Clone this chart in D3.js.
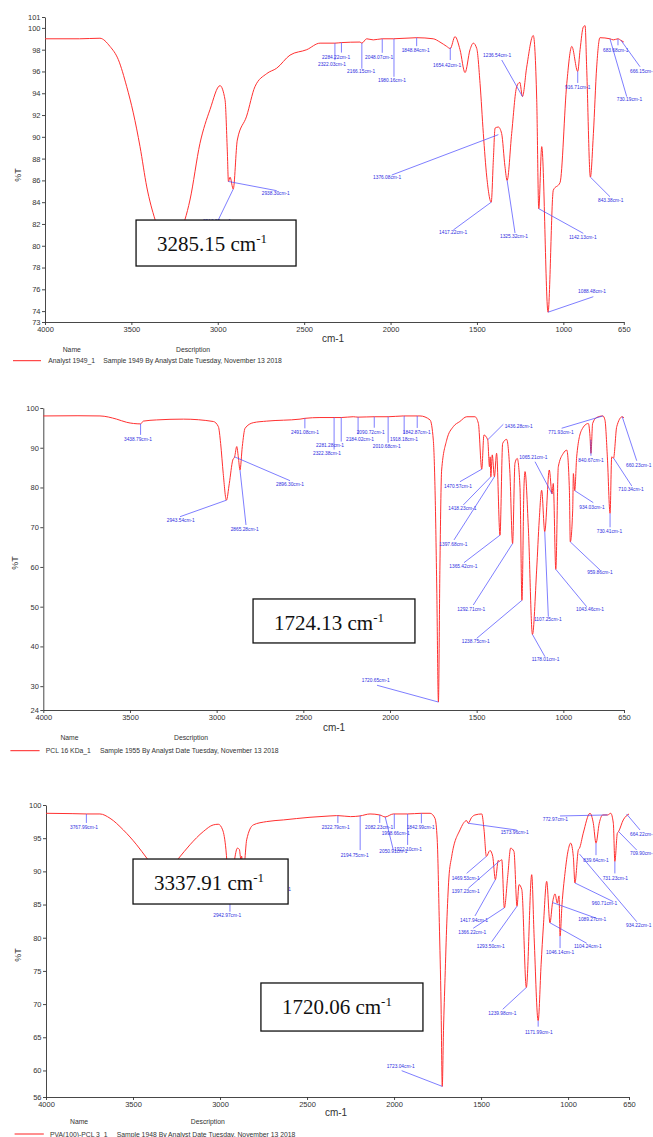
<!DOCTYPE html>
<html lang="en">
<head>
<meta charset="UTF-8">
<title>FTIR spectra - PVA, PCL, PVA-PCL</title>
<script src="https://d3js.org/d3.v7.min.js"></script>
<style>
  body { margin: 0; background: #fff; }
  svg { display: block; font-family: "Liberation Sans", Arial, sans-serif; }
  .axis path, .axis line { stroke: #333; stroke-width: 0.9; }
  .axis text { font-size: 7.5px; fill: #333; font-family: "Liberation Sans", Arial, sans-serif; }
  .spectrum { fill: none; stroke: #ff3030; stroke-width: 1; }
  .leader { stroke: #4646ff; stroke-width: 0.7; }
  .peak-label { font-size: 4.8px; fill: #2d2de0; }
  .axis-title { font-size: 10px; fill: #333; }
  .legend { font-size: 6.8px; fill: #333; }
  .box rect { fill: #fff; stroke: #111; stroke-width: 1.3; }
  .box text { font-family: "Liberation Serif", "Times New Roman", serif; font-size: 21px; fill: #111; }
</style>
</head>
<body>
<svg id="chart" width="653" height="1137"></svg>
<script>
// ---- data (wavenumber cm-1, %T) ----
const xTickValues = [4000, 3500, 3000, 2500, 2000, 1500, 1000, 650];
const pvaYTicks = [73, 74, 76, 78, 80, 82, 84, 86, 88, 90, 92, 94, 96, 98, 100, 101];
const pclYTicks = [24, 30, 40, 50, 60, 70, 80, 90, 100];
const blendYTicks = [56, 60, 65, 70, 75, 80, 85, 90, 95, 100];

const sampleNames = ["Analyst 1949_1", "PCL 16 KDa_1", "PVA(100)-PCL 3_1"];
const sampleDescriptions = [
    "Sample 1949 By Analyst Date Tuesday, November 13 2018",
    "Sample 1955 By Analyst Date Tuesday, November 13 2018",
    "Sample 1948 By Analyst Date Tuesday, November 13 2018"
];
const boxedPeaks = [["3285.15"], ["1724.13"], ["3337.91", "1720.06"]];

const pvaSpectrum = [
    [4000, 99.0], [3800, 99.0], [3682, 99.05], [3624, 98.3], [3576, 97.1], [3527, 94.6], [3489, 92.2],
    [3450, 89.1], [3411, 85.4], [3363, 82.4], [3320, 80.6], [3285.15, 80.2], [3240, 80.8], [3190, 82.4],
    [3161, 84.2], [3103, 89.4], [3045, 92.5], [2987, 94.7], [2958, 93.4], [2945, 88.8], [2938.3, 85.9],
    [2929, 86.3], [2910.52, 85.2], [2887, 89.7], [2833, 91.9], [2785, 94.6], [2717, 95.8], [2659, 96.3],
    [2582, 97.5], [2485, 98.0], [2408, 98.6], [2322.03, 98.6], [2284.22, 98.65], [2177, 98.7],
    [2166.15, 98.6], [2138, 99.0], [2100, 98.9], [2048.07, 99.0], [1984, 99.0], [1848.84, 99.1],
    [1753, 99.0], [1714, 98.7], [1675, 98.3], [1654.42, 98.1], [1627, 99.2], [1598, 98.0], [1569, 95.9],
    [1540, 98.0], [1521, 98.6], [1501, 98.1], [1482, 94.9], [1463, 90.3], [1443, 86.3], [1417.22, 84.0],
    [1405, 87.9], [1395, 90.8], [1376.08, 90.9], [1357, 90.3], [1338, 87.3], [1325.32, 86.0], [1299, 90.3],
    [1270, 94.6], [1252, 95.0], [1236.54, 93.7], [1212, 96.4], [1174, 99.3], [1154, 93.4], [1142.13, 83.4],
    [1125, 89.1], [1088.48, 73.9], [1058, 85.1], [1019, 85.8], [980, 94.9], [951, 98.3], [916.71, 96.0],
    [903, 98.0], [884, 100.1], [874, 100.2], [865, 96.4], [843.38, 86.3], [826, 90.3], [807, 96.4],
    [788, 99.1], [730.19, 99.0], [711, 98.9], [683.68, 99.0], [666.15, 98.85], [650, 98.7]
];
const pvaPeaks = [
    [2938.30, 85.9], [2910.52, 85.2], [2322.03, 98.6], [2284.22, 98.65], [2166.15, 98.6], [2048.07, 99.0],
    [1980.16, 99.0], [1848.84, 99.1], [1654.42, 98.2], [1417.22, 84.0], [1376.08, 90.2], [1325.32, 86.0],
    [1236.54, 93.7], [1142.13, 83.4], [1088.48, 73.9], [916.71, 96.0], [843.38, 86.3], [730.19, 99.0],
    [683.68, 99.0], [666.15, 98.85]
];

const pclSpectrum = [
    [4000, 98.0], [3800, 98.05], [3673, 98.0], [3577, 97.2], [3519, 96.4], [3438.79, 96.0], [3423, 96.7],
    [3346, 97.0], [3192, 97.2], [3019, 96.6], [2990, 95.3], [2977, 91.1], [2962, 83.5], [2943.54, 76.8],
    [2927, 81.0], [2907, 86.9], [2896.3, 87.7], [2884, 90.3], [2875, 87.7], [2865.28, 84.4], [2852, 90.3],
    [2836, 94.9], [2789, 96.3], [2711, 96.7], [2519, 97.2], [2491.08, 97.4], [2404, 97.6], [2322.38, 97.6],
    [2281.28, 97.6], [2212, 97.8], [2184.02, 97.7], [2090.72, 97.8], [2010.68, 97.8], [1923, 98.0],
    [1842.87, 98.0], [1827, 98.0], [1769, 97.0], [1750, 91.9], [1740, 79.3], [1730, 54.2], [1720.65, 26.0],
    [1712, 60], [1702, 84.4], [1673, 91.9], [1635, 95.3], [1597, 96.6], [1557, 97.8], [1510, 97.8],
    [1490, 96.1], [1470.57, 84.6], [1458, 93.2], [1436.28, 92.0], [1426, 85.2], [1422, 87.7],
    [1418.23, 82.7], [1410, 88.2], [1397.68, 82.7], [1385, 88.6], [1365.42, 68.0], [1350, 91.1],
    [1327, 92.1], [1308, 83.5], [1292.71, 65.9], [1279, 86.1], [1266, 87.3], [1250, 80], [1238.75, 51.6],
    [1227, 80.2], [1221, 84.0], [1202, 70], [1178.01, 43.0], [1154, 59.2], [1139, 71.8], [1125, 79.3],
    [1107.25, 68.9], [1081, 84.4], [1065.21, 78.4], [1058, 81.0], [1043.46, 59.4], [1029, 85.2],
    [1000, 88.6], [980, 89.4], [965, 79.3], [959.86, 66.3], [946, 74.3], [942, 83.5], [934.03, 79.2],
    [923, 87.7], [894, 94.5], [856, 96.1], [846, 92.8], [840.67, 88.6], [831, 96.1], [808, 97.6],
    [771.93, 98.0], [760, 97.0], [746, 87.7], [730.41, 73.5], [721, 87.7], [710.34, 87.4], [692, 95.3],
    [660.23, 97.8], [650, 97.5]
];
const pclPeaks = [
    [3438.79, 96.0], [2943.54, 76.8], [2896.30, 87.7], [2865.28, 84.4], [2491.08, 97.4], [2322.38, 97.6],
    [2281.28, 97.6], [2184.02, 97.7], [2090.72, 97.8], [2010.68, 97.8], [1918.18, 98.0], [1842.87, 98.0],
    [1720.65, 26.0], [1470.57, 84.6], [1436.28, 92.0], [1418.23, 82.7], [1397.68, 82.7], [1365.42, 68.0],
    [1292.71, 65.9], [1238.75, 51.6], [1178.01, 43.0], [1107.25, 68.9], [1065.21, 78.4], [1043.46, 59.4],
    [959.86, 66.3], [934.03, 79.2], [840.67, 92.0], [771.93, 98.0], [730.41, 73.5], [710.34, 87.4],
    [660.23, 97.8]
];

const blendSpectrum = [
    [4000, 98.75], [3850, 98.7], [3767.99, 98.65], [3690, 98.65], [3632, 98.0], [3556, 96.25], [3479, 94.0],
    [3421, 92.0], [3380, 90.6], [3337.91, 89.9], [3290, 90.4], [3240, 91.9], [3173, 94.0], [3096, 96.0],
    [3039, 97.0], [3010, 97.1], [2985, 96.25], [2966, 93.25], [2955, 89.5], [2942.97, 85.5], [2930, 88.5],
    [2915, 92.0], [2900, 93.5], [2889, 93.3], [2880, 91.8], [2876, 92.3], [2866.2, 89.0], [2858, 91.5],
    [2847, 94.75], [2809, 97.0], [2732, 97.5], [2636, 97.75], [2483, 98.15], [2368, 98.35], [2330, 98.4],
    [2322.79, 98.4], [2250, 98.25], [2196, 98.35], [2138, 98.65], [2082.23, 98.5], [2050.91, 98.2],
    [2004, 98.65], [1922.1, 98.65], [1842.99, 98.75], [1793, 98.75], [1765, 98.0], [1752, 94.75],
    [1740, 82.3], [1730, 70], [1723.04, 57.6], [1716, 66], [1707, 74], [1697, 82.2], [1685, 89],
    [1669, 92.2], [1621, 96.25], [1583, 97.65], [1573.96, 97.25], [1555, 98.1], [1535, 98.5], [1496, 98.65],
    [1483, 96.25], [1469.53, 92.25], [1449, 93.15], [1433, 92.25], [1417.94, 88.75], [1401, 91.65],
    [1397.23, 91.5], [1381, 91.75], [1366.22, 84.5], [1347, 89.25], [1330, 93.5], [1311, 93.0],
    [1293.5, 84.75], [1282, 88.0], [1266, 87.25], [1239.98, 72.5], [1209, 89.5], [1195, 80], [1171.99, 67.5],
    [1155, 76], [1142, 81.75], [1123, 88.5], [1104.24, 82.25], [1089.27, 85.3], [1075, 86.6], [1062, 85.2],
    [1052, 86.3], [1046.14, 80.25], [1035, 85], [1018, 89.7], [999, 93.25], [985, 94.25], [970, 92.25],
    [960.71, 88.25], [941, 93.25], [934.22, 93.5], [913, 95.75], [874, 98.75], [855, 97.25], [839.64, 94.25],
    [821, 97.25], [801, 98.5], [772.97, 98.5], [755, 98.75], [740, 97.25], [731.23, 91.5], [717, 95.75],
    [709.9, 96.0], [683, 97.75], [650, 98.65]
];
const blendPeaks = [
    [3767.99, 98.65], [2942.97, 85.5], [2866.20, 89.0], [2322.79, 98.4], [2194.75, 98.4], [2082.23, 98.5],
    [2050.91, 98.2], [1998.66, 98.65], [1922.10, 98.65], [1842.99, 98.75], [1723.04, 57.6], [1573.96, 97.25],
    [1469.53, 92.25], [1417.94, 88.75], [1397.23, 91.5], [1366.22, 84.5], [1293.50, 84.75], [1239.98, 72.5],
    [1171.99, 67.5], [1104.24, 82.25], [1089.27, 85.3], [1046.14, 80.25], [960.71, 88.25], [934.22, 92.6],
    [839.64, 94.25], [772.97, 98.5], [731.23, 91.5], [709.90, 96.0], [664.22, 98.65]
];

// ---- layout ----
// label offsets from the peak point: [textDx, textDy, leaderDx, leaderDy]
const pvaLabelOffsets = [
    [33.3, 11.8, 48.3, 9.2], [-30.3, 31.9, -16, 33], [-16.9, 20.9, 0, 17], [-19.4, 14.4, 0, 10],
    [-14.8, 28.6, 0, 25.5], [-17.2, 18.2, 0, 14], [-16, 41.2, 0, 38], [-15, 12.3, 0, 8.5],
    [-17.2, 17.5, 0, 12.5], [-52.2, 29.8, -37.9, 27.8], [-125.3, 42.4, -106.6, 40.4], [-7.1, 56.3, 7.9, 52.6],
    [-39.4, -41.5, -20.7, -36.5], [30.2, 29, 44.5, 24.6], [30, -20.5, 45.3, -15.5], [-12.7, 15.5, 0, 11.5],
    [7.6, 23.6, 19.6, 19.6], [6.8, 60.2, 16.8, 57.9], [-15, 11.2, 0, 6.5], [9, 30.6, 19, 26.3]
];
const pclLabelOffsets = [
    [-16.6, 15.4, 0, 11], [-59.7, 19.8, -46.4, 16.5], [41.4, 27.4, 55.4, 23.8], [-9.3, 59.3, 6, 55],
    [-13.9, 14.4, 0, 10], [-21.1, 35.8, 0, 32], [-25.2, 27.5, 0, 24], [-12.1, 22.2, 0, 17],
    [-17.6, 16, 0, 11], [-15.4, 30, 0, 26], [-14.2, 23.3, 0, 18], [-14.5, 16.7, 0, 12],
    [-76.7, -22.1, -61.4, -16.8], [-37.8, 16.8, -21.8, 12.5], [17, -13.5, 15.6, -15.5], [-42.5, 31.5, -27.5, 28.2],
    [-55.1, 67.2, -40.4, 63.2], [-50.7, 30.8, -36, 27.5], [-55.3, 65.8, -39.3, 61.5], [-60.2, 41.4, -45.2, 38],
    [-0.8, 24.8, 12.5, 22.2], [-10.7, 87.7, 3.6, 85.1], [-32.7, -36.1, -17, -32.1], [20.2, 40, 30.9, 37.4],
    [17, 30.8, 29.7, 28.1], [4.5, 16.6, 18.5, 12], [-12.6, 20.2, 0, 16], [-54.6, 16.7, -41.2, 12.3],
    [-13.3, 18.4, 0, 14], [4.8, 31.2, 18.2, 27.9], [3.8, 48.3, 14.5, 44]
];
const blendLabelOffsets = [
    [-16.4, 13.7, 0, 9], [-16.7, 14.5, 0, 10.5], [19.7, 11.3, 19, 9], [-16.2, 12.1, 0, 7.5],
    [-19.5, 39.4, 0, 34.5], [-14.7, 12.7, 0, 8], [-5.9, 34, 8.1, 33], [-12.6, 19.3, 0, 15],
    [-13.6, 35.3, 0, 31], [-14.7, 14.4, 0, 10], [-55.6, -19.7, -40.6, -15.7], [32.5, 9.5, 48.5, 6.8],
    [-34.7, 21.9, -19.7, 16.9], [-35.4, 40.3, -20.4, 36.3], [-47.3, 30.3, -30.7, 26.9], [-46.1, 24.8, -31.1, 20.4],
    [-40.3, 39.8, -25.3, 35.5], [-38, 25.8, -23.6, 21.8], [-13.2, 12, 0, 6], [24.1, 23.2, 36.8, 20.5],
    [25.7, 16.8, 44.1, 15.8], [-14, 16.6, 0, 12], [16.8, 20.3, 38.4, 18.7], [46.5, 70.9, 57.2, 67.6],
    [-12.7, 16.8, 0, 12], [-64.9, 4.3, -47.6, 1], [-12.2, 16.9, 0, 12], [11.4, 21.8, 18.1, 18.5],
    [3.5, 20, 13.5, 16]
];

// boxes in data units: [wavenumber left, wavenumber right, %T top, %T bottom]
const layout = [
    { xRange: [45, 623.8], yRange: [322, 17], yDomain: [73, 101], ticks: pvaYTicks,
      spectrum: pvaSpectrum, peaks: pvaPeaks, offsets: pvaLabelOffsets,
      boxes: [[3473, 2547, 82.36, 78.14]],
      pctT: [18, 175], cm: [333, 341.5],
      legend: { header: 352, name: 62.7, desc: 176, line: [13, 41, 360.7], row: 363, sample: 48.3, text: 103.3 } },
    { xRange: [43.3, 624], yRange: [710, 408], yDomain: [24, 100], ticks: pclYTicks,
      spectrum: pclSpectrum, peaks: pclPeaks, offsets: pclLabelOffsets,
      boxes: [[2790, 1856, 51.94, 40.87]],
      pctT: [15, 563], cm: [334, 731],
      legend: { header: 740, name: 60.4, desc: 174, line: [10.4, 39.6, 750.7], row: 753, sample: 45.8, text: 100 } },
    { xRange: [46, 629], yRange: [1097, 805], yDomain: [56, 100], ticks: blendYTicks,
      spectrum: blendSpectrum, peaks: blendPeaks, offsets: blendLabelOffsets,
      boxes: [[3500, 2609, 91.86, 85.08], [2765, 1834, 73.18, 65.94]],
      pctT: [18, 955], cm: [336, 1116],
      legend: { header: 1124, name: 70, desc: 190.8, line: [14.6, 43.8, 1134], row: 1136.5, sample: 50, text: 116.7 } }
];

const svg = d3.select("#chart");

layout.forEach((L, i) => {
    const x = d3.scaleLinear().domain([4000, 650]).range(L.xRange);
    const y = d3.scaleLinear().domain(L.yDomain).range(L.yRange);
    const g = svg.append("g");

    g.append("g")
        .attr("class", "axis")
        .attr("transform", `translate(0,${L.yRange[0]})`)
        .call(d3.axisBottom(x).tickValues(xTickValues).tickSize(3).tickSizeOuter(0).tickPadding(2).tickFormat(d3.format("d")));

    g.append("g")
        .attr("class", "axis")
        .attr("transform", `translate(${L.xRange[0]},0)`)
        .call(d3.axisLeft(y).tickValues(L.ticks).tickSize(3).tickSizeOuter(0).tickPadding(1.5));

    const line = d3.line()
        .x(d => x(d[0]))
        .y(d => y(d[1]))
        .curve(d3.curveMonotoneX);

    g.append("path")
        .datum(L.spectrum)
        .attr("class", "spectrum")
        .attr("d", line);

    // peak labels with leader lines
    const labels = g.selectAll(".peak")
        .data(L.peaks.map((p, k) => ({ w: p[0], t: p[1], o: L.offsets[k] })))
        .join("g")
        .attr("class", "peak")
        .attr("transform", d => `translate(${x(d.w)},${y(d.t)})`);

    labels.append("line")
        .attr("class", "leader")
        .attr("x1", 0).attr("y1", 0)
        .attr("x2", d => d.o[2]).attr("y2", d => d.o[3]);

    labels.append("text")
        .attr("class", "peak-label")
        .attr("x", d => d.o[0])
        .attr("y", d => d.o[1])
        .attr("dy", "0.35em")
        .text(d => d.w.toFixed(2) + "cm-1");

    // boxed call-outs (drawn on top, white fill hides what is behind)
    L.boxes.forEach((b, k) => {
        const bx = x(b[0]), by = y(b[2]);
        const box = g.append("g").attr("class", "box");
        box.append("rect")
            .attr("x", bx).attr("y", by)
            .attr("width", x(b[1]) - bx)
            .attr("height", y(b[3]) - by);
        const txt = box.append("text")
            .attr("x", bx + 21)
            .attr("y", by + 31);
        txt.append("tspan").text(boxedPeaks[i][k] + " cm");
        txt.append("tspan").attr("dy", -8).style("font-size", "13px").text("-1");
    });

    // axis titles
    g.append("text")
        .attr("class", "axis-title")
        .attr("x", L.cm[0]).attr("y", L.cm[1])
        .attr("text-anchor", "middle")
        .text("cm-1");

    g.append("text")
        .attr("class", "axis-title")
        .style("font-size", "9px")
        .attr("transform", `translate(${L.pctT[0]},${L.pctT[1]}) rotate(-90)`)
        .attr("text-anchor", "middle")
        .attr("dy", "0.35em")
        .text("%T");

    // legend
    const lg = L.legend;
    g.append("text").attr("class", "legend").attr("x", lg.name).attr("y", lg.header).text("Name");
    g.append("text").attr("class", "legend").attr("x", lg.desc).attr("y", lg.header).text("Description");
    g.append("line")
        .attr("x1", lg.line[0]).attr("x2", lg.line[1])
        .attr("y1", lg.line[2]).attr("y2", lg.line[2])
        .attr("stroke", "#ff2020").attr("stroke-width", 1);
    g.append("text").attr("class", "legend").attr("x", lg.sample).attr("y", lg.row).text(sampleNames[i]);
    g.append("text").attr("class", "legend").attr("x", lg.text).attr("y", lg.row).text(sampleDescriptions[i]);
});
</script>
</body>
</html>
